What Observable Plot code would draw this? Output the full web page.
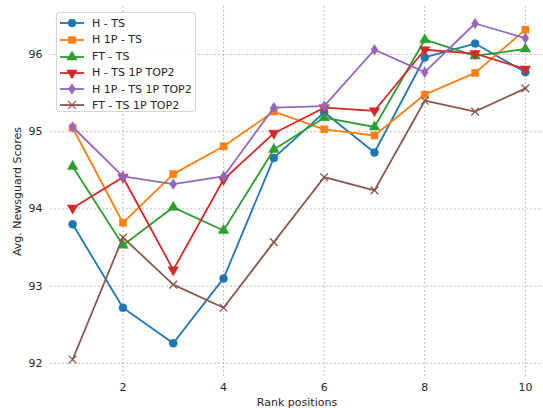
<!DOCTYPE html>
<html>
<head>
<meta charset="utf-8">
<script src="https://cdn.jsdelivr.net/npm/d3@7"></script>
<script src="https://cdn.jsdelivr.net/npm/@observablehq/plot@0.6"></script>
<style>
  body { margin: 0; background: #fff; }
  #wrap { position: relative; width: 543px; height: 408px; overflow: hidden; font-family: "DejaVu Sans", sans-serif; }
  #legend { position: absolute; left: 56px; top: 12px; width: 140px; height: 100px; border: 1px solid #d6d6d6; border-radius: 3px; background: rgba(255,255,255,0.85); box-sizing: border-box; }
  .row { position: absolute; left: 0; height: 16px; display: flex; align-items: center; font-size: 11px; color: #262626; white-space: nowrap; }
  .row svg { margin-left: 3px; margin-right: 8px; }
</style>
</head>
<body>
<div id="wrap"><div id="chart"></div><div id="legend"></div></div>
<script>
const ranks = [1, 2, 3, 4, 5, 6, 7, 8, 9, 10];
const seriesNames = ["H - TS", "H 1P - TS", "FT - TS", "H - TS 1P TOP2", "H 1P - TS 1P TOP2", "FT - TS 1P TOP2"];
const seriesColors = ["#1f77b4", "#ff7f0e", "#2ca02c", "#d62728", "#9467bd", "#8c564b"];
const hTS          = [93.80, 92.72, 92.26, 93.10, 94.66, 95.25, 94.73, 95.96, 96.14, 95.77];
const h1pTS        = [95.05, 93.82, 94.45, 94.81, 95.26, 95.03, 94.95, 95.48, 95.76, 96.32];
const ftTS         = [94.55, 93.53, 94.02, 93.72, 94.77, 95.18, 95.06, 96.19, 95.98, 96.07];
const hTSTop2      = [94.01, 94.41, 93.21, 94.38, 94.98, 95.31, 95.27, 96.06, 96.01, 95.81];
const h1pTSTop2    = [95.06, 94.42, 94.32, 94.42, 95.31, 95.33, 96.06, 95.77, 96.40, 96.21];
const ftTSTop2     = [92.05, 93.63, 93.02, 92.72, 93.57, 94.41, 94.24, 95.40, 95.26, 95.56];
const xTicks = [2, 4, 6, 8, 10];
const yTicks = [92, 93, 94, 95, 96];

const seriesValues = [hTS, h1pTS, ftTS, hTSTop2, h1pTSTop2, ftTSTop2];

const thinDiamond = {
  draw(ctx, size) {
    const h = Math.sqrt(size) * 0.72, w = h * 0.65;
    ctx.moveTo(0, -h); ctx.lineTo(w, 0); ctx.lineTo(0, h); ctx.lineTo(-w, 0); ctx.closePath();
  }
};
const markerSpecs = [
  {symbol: "circle", r: 4, rotate: 0, filled: true},
  {symbol: "square", r: 4, rotate: 0, filled: true},
  {symbol: "triangle", r: 3.9, rotate: 0, filled: true},
  {symbol: "triangle", r: 3.9, rotate: 180, filled: true},
  {symbol: thinDiamond, r: 4.2, rotate: 0, filled: true},
  {symbol: "times", r: 3.6, rotate: 0, filled: false}
];

const marks = [
  Plot.gridY(yTicks, {stroke: "#b0b0b0", strokeOpacity: 1, strokeDasharray: "2,2", strokeWidth: 0.8}),
  Plot.gridX(xTicks, {stroke: "#b0b0b0", strokeOpacity: 1, strokeDasharray: "2,2", strokeWidth: 0.8}),
  Plot.axisX(xTicks, {tickSize: 0, tickPadding: 7, label: null, tickFormat: "d", fontSize: 11, fill: "#262626"}),
  Plot.axisY(yTicks, {tickSize: 0, tickPadding: 8, label: null, tickFormat: "d", fontSize: 11, fill: "#262626"})
];

seriesNames.forEach((name, i) => {
  const data = ranks.map((r, j) => ({rank: r, score: seriesValues[i][j], series: name}));
  const m = markerSpecs[i];
  marks.push(Plot.line(data, {x: "rank", y: "score", stroke: seriesColors[i], strokeWidth: 1.8}));
  marks.push(Plot.dot(data, {
    x: "rank", y: "score", symbol: () => m.symbol, r: m.r, rotate: m.rotate,
    fill: m.filled ? seriesColors[i] : "none",
    stroke: seriesColors[i], strokeWidth: m.filled ? 0.5 : 1.3
  }));
});

marks.push(Plot.text(["Rank positions"], {frameAnchor: "bottom", dy: 22, lineAnchor: "top", fontSize: 11, fill: "#262626"}));
marks.push(Plot.text(["Avg. Newsguard Scores"], {frameAnchor: "left", textAnchor: "middle", lineAnchor: "middle", dx: -33, dy: 0, rotate: -90, fontSize: 11, fill: "#262626"}));

const chart = Plot.plot({
  width: 543, height: 408,
  marginLeft: 50, marginRight: 0, marginTop: 6, marginBottom: 32,
  style: {fontFamily: "DejaVu Sans, sans-serif", fontSize: "11px", background: "#fff"},
  x: {domain: [0.56, 10.36]},
  y: {domain: [91.83, 96.62]},
  symbol: {type: "identity"},
  marks
});
document.getElementById("chart").appendChild(chart);

// legend
const legend = d3.select("#legend");
const rowTops = [2, 18.6, 35.6, 51.8, 68, 84.4];
seriesNames.forEach((name, i) => {
  const row = legend.append("div").attr("class", "row").style("top", rowTops[i] + "px");
  const svg = row.append("svg").attr("width", 24).attr("height", 16);
  svg.append("line").attr("x1", 0).attr("x2", 24).attr("y1", 8).attr("y2", 8)
    .attr("stroke", seriesColors[i]).attr("stroke-width", 1.8);
  const m = markerSpecs[i];
  let sym = m.symbol === "circle" ? d3.symbolCircle : m.symbol === "square" ? d3.symbolSquare :
    m.symbol === "triangle" ? d3.symbolTriangle : m.symbol === "times" ? d3.symbolTimes : m.symbol;
  svg.append("path").attr("d", d3.symbol(sym, Math.PI * m.r * m.r)())
    .attr("transform", `translate(12,8) rotate(${m.rotate})`)
    .attr("fill", m.filled ? seriesColors[i] : "none")
    .attr("stroke", seriesColors[i]).attr("stroke-width", m.filled ? 0.5 : 1.3);
  row.append("span").text(name);
});
</script>
</body>
</html>
